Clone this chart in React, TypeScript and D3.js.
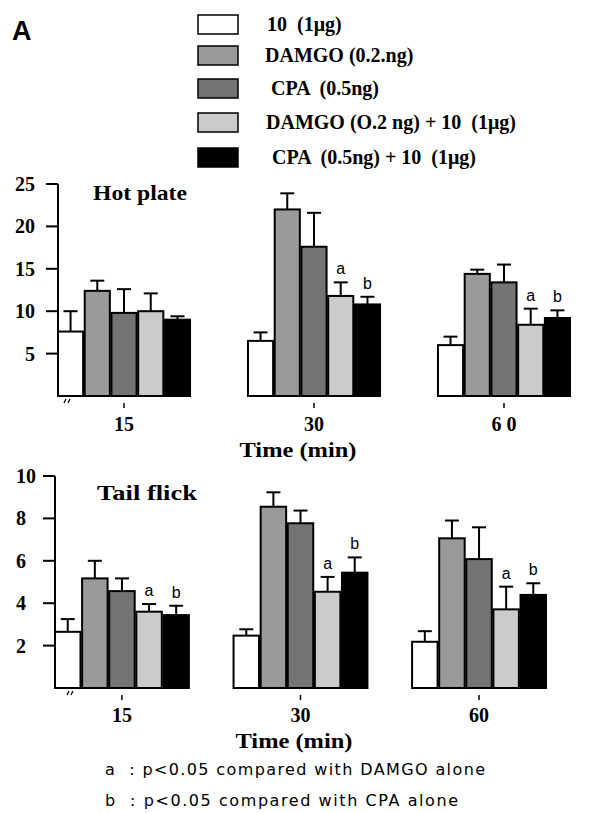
import React from "react";
import * as d3 from "d3";

// ---------- data ----------
const seriesLabels = ["10  (1μg)", "DAMGO (0.2.ng)", " CPA  (0.5ng)", "DAMGO (O.2 ng) + 10  (1μg)", " CPA  (0.5ng) + 10  (1μg)"];
const seriesColors = ["#ffffff", "#9a9a9a", "#747474", "#cbcbcb", "#000000"];
const timePoints = ["15", "30", "60"];
const hotPlateTickLabels = ["15", "30", "6 0"];
const tailFlickTickLabels = ["15", "30", "60"];
const hotPlateYTicks = [5, 10, 15, 20, 25];
const tailFlickYTicks = [2, 4, 6, 8, 10];

// Hot plate: means and SEM per series across 15, 30, 60 min
const hp10Mean = [7.6, 6.5, 6.0];
const hp10Sem = [2.4, 1.0, 1.0];
const hpDamgoMean = [12.4, 22.0, 14.4];
const hpDamgoSem = [1.2, 1.9, 0.5];
const hpCpaMean = [9.8, 17.6, 13.4];
const hpCpaSem = [2.8, 4.0, 2.1];
const hpDamgo10Mean = [10.0, 11.8, 8.4];
const hpDamgo10Sem = [2.1, 1.6, 1.9];
const hpCpa10Mean = [9.0, 10.8, 9.2];
const hpCpa10Sem = [0.4, 0.9, 0.9];
const hpSig = [["", "", "", "", ""], ["", "", "", "a", "b"], ["", "", "", "a", "b"]];

// Tail flick
const tf10Mean = [2.65, 2.47, 2.18];
const tf10Sem = [0.6, 0.3, 0.5];
const tfDamgoMean = [5.17, 8.55, 7.06];
const tfDamgoSem = [0.83, 0.68, 0.84];
const tfCpaMean = [4.57, 7.77, 6.08];
const tfCpaSem = [0.6, 0.6, 1.5];
const tfDamgo10Mean = [3.6, 4.54, 3.71];
const tfDamgo10Sem = [0.36, 0.7, 1.07];
const tfCpa10Mean = [3.44, 5.44, 4.39];
const tfCpa10Sem = [0.44, 0.72, 0.55];
const tfSig = [["", "", "", "a", "b"], ["", "", "", "a", "b"], ["", "", "", "a", "b"]];

const footnotes = ["a  : p<0.05 compared with DAMGO alone", "b  : p<0.05 compared with CPA alone"];

// ---------- layout ----------
const W = 616;
const H = 813;
const serif = "'Liberation Serif', 'Times New Roman', serif";
const sans = "'Liberation Sans', Arial, sans-serif";
const wideSans = "'DejaVu Sans', Verdana, sans-serif";

type PanelCfg = {
  title: string;
  titleX: number;
  titleY: number;
  titleLen: number;
  means: number[][];
  sems: number[][];
  sig: string[][];
  yMax: number;
  yTicks: number[];
  xLabels: string[];
  x0: number;
  x1: number;
  yTop: number;
  yBase: number;
  pad: number;
  tickLabelX: number;
  tickAnchor: "start" | "end";
  xLabelY: number;
  timeY: number;
  timeX: number;
  breakX: number;
};

const panels: PanelCfg[] = [
  {
    title: "Hot plate", titleX: 93, titleY: 200, titleLen: 94,
    means: [hp10Mean, hpDamgoMean, hpCpaMean, hpDamgo10Mean, hpCpa10Mean],
    sems: [hp10Sem, hpDamgoSem, hpCpaSem, hpDamgo10Sem, hpCpa10Sem],
    sig: hpSig, yMax: 25, yTicks: hotPlateYTicks, xLabels: hotPlateTickLabels,
    x0: 58, x1: 570, yTop: 184, yBase: 396, pad: 0.305,
    tickLabelX: 35, tickAnchor: "end", xLabelY: 431, timeY: 457, timeX: 298, breakX: 64,
  },
  {
    title: "Tail flick", titleX: 97, titleY: 500, titleLen: 100,
    means: [tf10Mean, tfDamgoMean, tfCpaMean, tfDamgo10Mean, tfCpa10Mean],
    sems: [tf10Sem, tfDamgoSem, tfCpaSem, tfDamgo10Sem, tfCpa10Sem],
    sig: tfSig, yMax: 10, yTicks: tailFlickYTicks, xLabels: tailFlickTickLabels,
    x0: 55, x1: 546, yTop: 476, yBase: 688, pad: 0.25,
    tickLabelX: 16, tickAnchor: "start", xLabelY: 722, timeY: 748, timeX: 294, breakX: 67,
  },
];

function Panel({ p }: { p: PanelCfg }) {
  const y = d3.scaleLinear().domain([0, p.yMax]).range([p.yBase, p.yTop]);
  const xg = d3.scaleBand<string>().domain(timePoints).range([p.x0, p.x1]).paddingInner(p.pad).paddingOuter(0);
  const xs = d3.scaleBand<number>().domain(d3.range(seriesLabels.length)).range([0, xg.bandwidth()]).paddingInner(0.06);
  const axisX = p.x0;
  const cap = 7;
  return (
    <g>
      <line x1={axisX} x2={axisX} y1={y(p.yMax)} y2={y(0)} stroke="#000" strokeWidth={2} />
      {p.yTicks.map((t) => (
        <g key={t}>
          <line x1={axisX - 12} x2={axisX} y1={y(t)} y2={y(t)} stroke="#000" strokeWidth={2} />
          <text x={p.tickLabelX} y={y(t) + 7} textAnchor={p.tickAnchor} fontFamily={serif} fontWeight="bold" fontSize={20}>
            {t}
          </text>
        </g>
      ))}
      <text x={p.titleX} y={p.titleY} fontFamily={serif} fontWeight="bold" fontSize={22} textLength={p.titleLen} lengthAdjust="spacingAndGlyphs">
        {p.title}
      </text>
      {timePoints.map((tp, gi) => {
        const gx = xg(tp) as number;
        const cx = gx + xg.bandwidth() / 2;
        return (
          <g key={tp}>
            {seriesLabels.map((_, si) => {
              const bx = gx + (xs(si) as number);
              const bw = xs.bandwidth();
              const m = p.means[si][gi];
              const e = m + p.sems[si][gi];
              const mx = bx + bw / 2;
              const s = p.sig[gi][si];
              return (
                <g key={si}>
                  <line x1={mx} x2={mx} y1={y(m) + 5} y2={y(e)} stroke="#000" strokeWidth={2} />
                  <line x1={mx - cap} x2={mx + cap} y1={y(e)} y2={y(e)} stroke="#000" strokeWidth={2} />
                  <rect x={bx} y={y(m)} width={bw} height={y(0) - y(m)} fill={seriesColors[si]} stroke="#000" strokeWidth={2} />
                  {s && (
                    <text x={mx} y={y(e) - 8} textAnchor="middle" fontFamily={sans} fontSize={16}>
                      {s}
                    </text>
                  )}
                </g>
              );
            })}
            <line x1={cx} x2={cx} y1={p.yBase + 7} y2={p.yBase + 12} stroke="#000" strokeWidth={1.5} />
            <text x={cx} y={p.xLabelY} textAnchor="middle" fontFamily={serif} fontWeight="bold" fontSize={20} style={{ whiteSpace: "pre" }}>
              {p.xLabels[gi]}
            </text>
          </g>
        );
      })}
      {[0, 4].map((k) => (
        <line key={k} x1={p.breakX + k} y1={p.yBase + 7} x2={p.breakX + k + 2} y2={p.yBase + 3} stroke="#000" strokeWidth={1.2} />
      ))}
      <text x={p.timeX} y={p.timeY} textAnchor="middle" fontFamily={serif} fontWeight="bold" fontSize={21} textLength={117} lengthAdjust="spacingAndGlyphs">
        Time (min)
      </text>
    </g>
  );
}

const legendRows = [24, 55, 88, 122, 157];
const legendTextX = [267, 265, 266, 266, 267];

export default function App() {
  return (
    <svg width={W} height={H} style={{ position: "absolute", left: 0, top: 0, background: "#fff" }}>
      <rect x={0} y={0} width={W} height={H} fill="#fff" />
      <text x={12} y={40} fontFamily={sans} fontWeight="bold" fontSize={27}>
        A
      </text>
      {seriesLabels.map((l, i) => (
        <g key={i}>
          <rect x={198} y={legendRows[i] - 9} width={40} height={19} fill={seriesColors[i]} stroke="#000" strokeWidth={1.5} />
          <text x={legendTextX[i]} y={legendRows[i] + 7} fontFamily={serif} fontWeight="bold" fontSize={20} style={{ whiteSpace: "pre" }}>
            {l}
          </text>
        </g>
      ))}
      {panels.map((p, i) => (
        <Panel key={i} p={p} />
      ))}
      <text x={105} y={775} fontFamily={wideSans} fontSize={16} textLength={380} lengthAdjust="spacing" style={{ whiteSpace: "pre" }}>
        {footnotes[0]}
      </text>
      <text x={105} y={806} fontFamily={wideSans} fontSize={16} textLength={353} lengthAdjust="spacing" style={{ whiteSpace: "pre" }}>
        {footnotes[1]}
      </text>
    </svg>
  );
}
